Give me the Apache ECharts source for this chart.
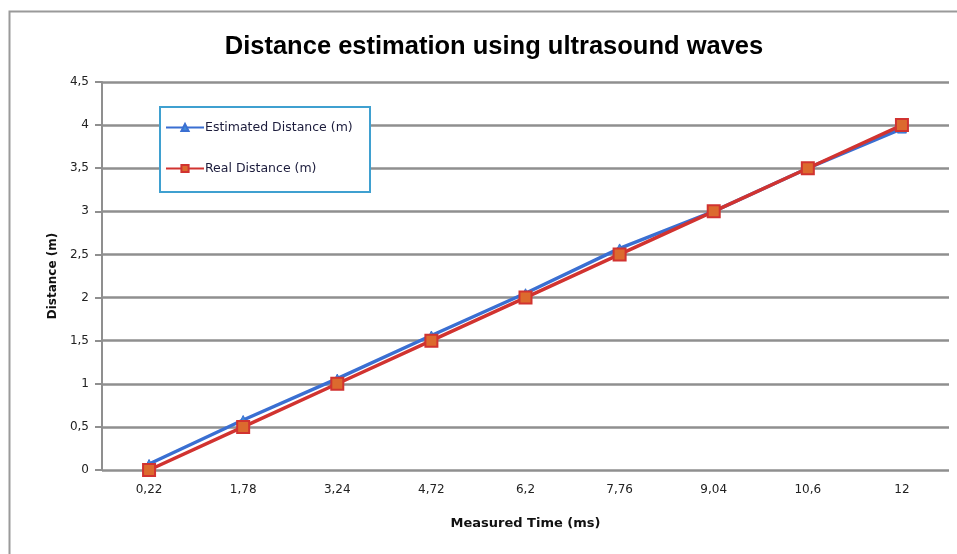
<!DOCTYPE html>
<html>
<head>
<meta charset="utf-8">
<script src="https://cdn.jsdelivr.net/npm/echarts@6/dist/echarts.min.js"></script>
<style>
  html, body { margin: 0; padding: 0; background: #fff; }
  #chart { width: 957px; height: 554px; }
</style>
</head>
<body>
<div id="chart"></div>
<script>
// Measured echo times (ms), shown with a decimal comma
const timeLabels = ['0,22', '1,78', '3,24', '4,72', '6,2', '7,76', '9,04', '10,6', '12'];
// Distance computed from the ultrasound echo (m)
const estimatedDistance = [0.07, 0.58, 1.06, 1.56, 2.05, 2.57, 3.0, 3.5, 3.96];
// Distance measured with a tape (m)
const realDistance = [0, 0.5, 1, 1.5, 2, 2.5, 3, 3.5, 4];

const chart = echarts.init(document.getElementById('chart'), null, { renderer: 'canvas' });

const axisFont = 'DejaVu Sans';
const gridGrey = '#8f8f8f';

chart.setOption({
  animation: false,
  backgroundColor: '#ffffff',
  title: {
    text: 'Distance estimation using ultrasound waves',
    left: 489,
    textAlign: 'center',
    top: 29,
    textStyle: {
      fontFamily: 'Liberation Sans',
      fontWeight: 'bold',
      fontSize: 25.5,
      color: '#000'
    }
  },
  graphic: [
    {
      // outer chart frame
      type: 'rect',
      z: 0,
      silent: true,
      shape: { x: 9.5, y: 11.5, width: 1000, height: 600 },
      style: { fill: 'none', stroke: '#9a9a9a', lineWidth: 2 }
    },
    {
      // legend box
      type: 'rect',
      z: 8,
      silent: true,
      shape: { x: 160, y: 107, width: 210, height: 85 },
      style: { fill: '#ffffff', stroke: '#3fa0d0', lineWidth: 2 }
    }
  ],
  legend: {
    orient: 'vertical',
    left: 165,
    top: 121,
    padding: 0,
    itemGap: 28,
    itemWidth: 38,
    itemHeight: 9,
    z: 10,
    textStyle: { fontFamily: axisFont, fontSize: 12.5, color: '#1c1c3c', padding: [0, 0, 0, -4] },
    data: ['Estimated Distance (m)', 'Real Distance (m)']
  },
  grid: { left: 102, right: 8, top: 82, bottom: 84 },
  xAxis: {
    type: 'category',
    data: timeLabels,
    boundaryGap: true,
    name: 'Measured Time (ms)',
    nameLocation: 'middle',
    nameGap: 47,
    nameTextStyle: { fontFamily: axisFont, fontWeight: 'bold', fontSize: 13, color: '#111' },
    axisLine: { show: false },
    axisTick: { show: false },
    axisLabel: { fontFamily: axisFont, fontSize: 12, color: '#222', margin: 14 }
  },
  yAxis: {
    type: 'value',
    min: 0,
    max: 4.5,
    interval: 0.5,
    name: 'Distance (m)',
    nameLocation: 'middle',
    nameGap: 42,
    nameRotate: 90,
    nameTextStyle: { fontFamily: axisFont, fontWeight: 'bold', fontSize: 12, color: '#111' },
    axisLine: { show: true, lineStyle: { color: gridGrey, width: 2 } },
    axisTick: { show: true, inside: false, length: 7, lineStyle: { color: gridGrey, width: 2 } },
    axisLabel: {
      fontFamily: axisFont, fontSize: 12, color: '#222', margin: 13,
      formatter: v => String(v).replace('.', ',')
    },
    splitLine: { show: true, lineStyle: { color: gridGrey, width: 2.5 } }
  },
  series: [
    {
      name: 'Estimated Distance (m)',
      type: 'line',
      data: estimatedDistance,
      symbol: 'triangle',
      symbolSize: 9,
      color: '#3a6fd2',
      itemStyle: { color: '#3f8ad8', borderColor: '#3a6fd2', borderWidth: 1 },
      lineStyle: { color: '#3a6fd2', width: 3.5 },
      z: 3
    },
    {
      name: 'Real Distance (m)',
      type: 'line',
      data: realDistance,
      symbol: 'rect',
      symbolSize: 12,
      color: '#d13330',
      itemStyle: { color: '#dc6a2e', borderColor: '#d13330', borderWidth: 2 },
      lineStyle: { color: '#d13330', width: 3.5 },
      z: 4
    }
  ]
});
</script>
</body>
</html>
